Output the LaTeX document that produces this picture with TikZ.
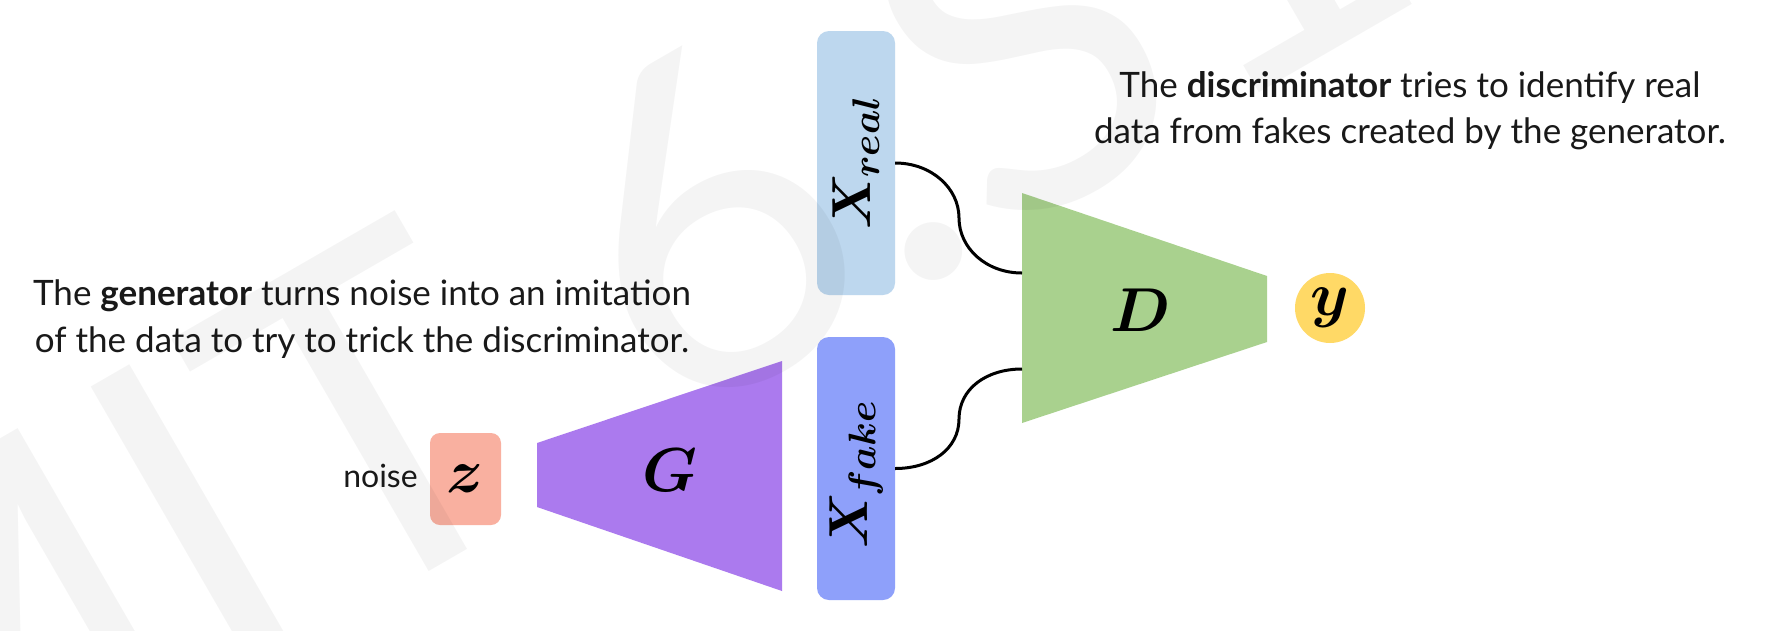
\RequirePackage{fix-cm}
\documentclass[tikz,border=0pt]{standalone}
\usepackage{fontspec}
\setmainfont{Lato}
\definecolor{realblue}{RGB}{189,215,238}
\definecolor{fakeblue}{RGB}{142,160,250}
\definecolor{dgreen}{RGB}{169,209,142}
\definecolor{gpurple}{RGB}{171,122,238}
\definecolor{zsalmon}{RGB}{249,176,160}
\definecolor{yyellow}{RGB}{255,217,102}
\begin{document}
\begin{tikzpicture}[x=1pt,y=-1pt,
  txt/.style={font=\fontsize{35}{46}\selectfont, anchor=base, inner sep=0pt, text=black!90},
  mathlbl/.style={font=\fontsize{62}{70}\selectfont\boldmath, inner sep=0pt},
  vlbl/.style={font=\fontsize{55}{60}\selectfont\boldmath, inner sep=0pt, rotate=90},
  xbox/.style={rounded corners=12pt, minimum width=78pt, inner sep=0pt, draw=none},
  conn/.style={line width=3pt, black}
]
\useasboundingbox (0,0) rectangle (1788,630);
\fill[white] (0,0) rectangle (1788,630);

% data boxes
\node[xbox, fill=realblue, minimum height=264pt] (xreal) at (856,163) {};
\node[xbox, fill=fakeblue, minimum height=263pt] (xfake) at (856,468.5) {};
\node[vlbl] (xreallbl) at (xreal.center) {$X_{real}$};
\node[vlbl] (xfakelbl) at ([yshift=-6pt]xfake.center) {$X_{fake}$};

% generator
\fill[gpurple] (537,443) -- (782,361) -- (782,591) -- (537,507) -- cycle;
\node[mathlbl] (glbl) at (670,470) {$G$};

% discriminator
\fill[dgreen] (1022,193) -- (1267,276) -- (1267,342) -- (1022,423) -- cycle;
\node[mathlbl] (dlbl) at (1141,310) {$D$};
\coordinate (din1) at (1022,273);
\coordinate (din2) at (1022,369);

% noise z
\node[rounded corners=10pt, fill=zsalmon, minimum width=71pt, minimum height=92pt, inner sep=0pt] (zbox) at (465.5,479) {};
\node[mathlbl] (zlbl) at (zbox.center) {$z$};
\node[txt, font=\fontsize{32}{40}\selectfont] (noise) at (380.5,487) {noise};

% output y
\node[circle, fill=yyellow, minimum size=70pt, inner sep=0pt] (ycirc) at (1330,308) {};
\node[mathlbl] (ylbl) at (ycirc.center) {$y$};

% connectors
\coordinate (m1) at (959,218);
\coordinate (m2) at (959,419);
\draw[conn] (xreal.east) .. controls +(36,0) and +(0,-30) .. (m1)
            .. controls +(0,30) and +(-36,0) .. (din1);
\draw[conn] (xfake.east) .. controls +(36,0) and +(0,30) .. (m2)
            .. controls +(0,-30) and +(-36,0) .. (din2);

% texts
\node[txt] (dtext1) at (1410,97) {The \textbf{discriminator} tries to identify real};
\node[txt] (dtext2) at (1410,143) {data from fakes created by the generator.};
\node[txt] (gtext1) at (362,305) {The \textbf{generator} turns noise into an imitation};
\node[txt] (gtext2) at (362,352) {of the data to try to trick the discriminator.};

% watermark
\node[font=\fontsize{460}{460}\selectfont, text=black, text opacity=0.045, rotate=30, anchor=base west, inner sep=0pt] (wm) at (-151,907) {MIT 6.S191};
\end{tikzpicture}
\end{document}
